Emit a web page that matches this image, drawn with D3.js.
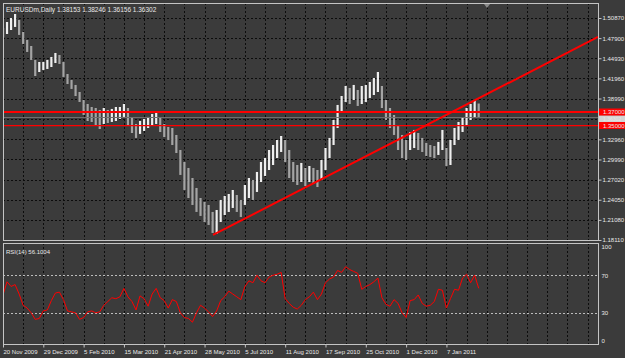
<!DOCTYPE html>
<html>
<head>
<meta charset="utf-8">
<script src="https://cdn.jsdelivr.net/npm/d3@7"></script>
<style>
body { margin: 0; background: #3b3b3b; }
text { font-family: "Liberation Sans", Arial, sans-serif; font-size: 6px; fill: #e8e8e8; }
</style>
</head>
<body>
<div id="chart"></div>
<script>
// EURUSDm daily, one sample every ~3 trading days
const highs = [1.4940,1.5028,1.5087,1.5146,1.5058,1.4881,1.4763,1.4674,1.4468,1.4438,
  1.4438,1.4468,1.4512,1.4571,1.4541,1.4438,1.4261,1.4172,1.4099,1.3995,
  1.3877,1.3818,1.3774,1.3759,1.3730,1.3759,1.3730,1.3745,1.3774,1.3774,
  1.3818,1.3759,1.3612,1.3523,1.3567,1.3597,1.3627,1.3671,1.3686,1.3612,
  1.3523,1.3479,1.3464,1.3361,1.3139,1.2962,1.2874,1.2726,1.2579,1.2431,
  1.2372,1.2328,1.2225,1.2254,1.2402,1.2461,1.2490,1.2549,1.2475,1.2402,
  1.2623,1.2726,1.2697,1.2815,1.2962,1.3021,1.3139,1.3213,1.3287,1.3346,
  1.3287,1.3139,1.2962,1.2918,1.2948,1.2874,1.2903,1.2874,1.2844,1.2992,
  1.3169,1.3317,1.3582,1.3804,1.3936,1.4084,1.4054,1.4099,1.4025,1.4084,
  1.4099,1.4143,1.4202,1.4290,1.4084,1.3877,1.3759,1.3656,1.3508,1.3361,
  1.3287,1.3405,1.3435,1.3390,1.3317,1.3243,1.3213,1.3198,1.3258,1.3435,
  1.3169,1.3287,1.3464,1.3553,1.3612,1.3759,1.3818,1.3877,1.3825];
const lows = [1.4807,1.4851,1.4910,1.4955,1.4837,1.4704,1.4586,1.4468,1.4231,1.4290,
  1.4320,1.4335,1.4364,1.4423,1.4409,1.4217,1.4113,1.4040,1.3936,1.3848,
  1.3656,1.3567,1.3553,1.3508,1.3449,1.3523,1.3538,1.3553,1.3567,1.3597,
  1.3627,1.3508,1.3390,1.3317,1.3376,1.3420,1.3464,1.3494,1.3523,1.3405,
  1.3331,1.3287,1.3213,1.3095,1.2771,1.2549,1.2431,1.2328,1.2225,1.2166,
  1.2077,1.2033,1.1915,1.1900,1.2077,1.2180,1.2225,1.2284,1.2225,1.2151,
  1.2328,1.2431,1.2402,1.2520,1.2667,1.2756,1.2844,1.2918,1.3021,1.3110,
  1.2962,1.2726,1.2667,1.2623,1.2667,1.2608,1.2667,1.2638,1.2593,1.2697,
  1.2844,1.3021,1.3213,1.3464,1.3700,1.3848,1.3818,1.3877,1.3789,1.3818,
  1.3848,1.3907,1.3951,1.3995,1.3759,1.3582,1.3464,1.3361,1.3139,1.3021,
  1.2992,1.3139,1.3169,1.3139,1.3110,1.3051,1.3036,1.3021,1.3066,1.3139,
  1.2903,1.2918,1.3213,1.3287,1.3405,1.3508,1.3582,1.3612,1.3616];
const rsi = [49,63,58,60,50,38,35,30,23,24,
  32,33,43,51,52,44,32,31,30,23,
  25,31,32,30,31,38,42,46,45,47,
  56,47,42,33,48,45,37,50,56,46,
  43,35,44,42,30,25,24,20,30,38,
  35,31,26,32,43,47,53,50,47,44,
  58,64,62,70,64,62,68,70,71,73,
  45,40,36,34,38,44,47,52,44,50,
  62,66,68,75,73,79,76,74,72,55,
  58,60,63,67,46,39,37,44,40,30,
  25,43,44,49,40,37,38,42,55,54,
  35,45,55,54,67,71,62,70,56.1];

const dateLabels = ["20 Nov 2009","29 Dec 2009","5 Feb 2010","15 Mar 2010","21 Apr 2010","28 May 2010",
  "5 Jul 2010","11 Aug 2010","17 Sep 2010","25 Oct 2010","1 Dec 2010","7 Jan 2011"];
const dateIdx = [0,10,20,30,40,50,60,70,80,90,100,110];
const priceTicks = [1.18110,1.21080,1.24050,1.27020,1.29990,1.32960,1.35930,1.38990,1.41960,1.44930,1.47900,1.50870];
const rsiTicks = [100,70,30,0];
const rsiLevels = [70,30];
const levels = [1.37000, 1.35000];
const lastPrice = 1.36302;
const trend = [[52.1, 1.1885], [147.6, 1.4807]];

const width = 625, height = 358;
const plot = {left: 3, right: 598, top: 3, bottom: 240};
const sub = {top: 243, bottom: 344};

const svg = d3.select("#chart").append("svg")
    .attr("width", width)
    .attr("height", height);

const x = d3.scaleLinear().domain([0, 147.6]).range([plot.left, plot.right]);
const y = d3.scaleLinear().domain([1.18110, 1.50870]).range([240, 18]);
const yR = d3.scaleLinear().domain([0, 100]).range([341, 247]);
const px = v => Math.round(v) + 0.5;

svg.append("clipPath").attr("id", "clipMain")
  .append("rect").attr("x", plot.left).attr("y", plot.top)
  .attr("width", plot.right - plot.left).attr("height", plot.bottom - plot.top);
svg.append("clipPath").attr("id", "clipSub")
  .append("rect").attr("x", plot.left).attr("y", sub.top)
  .attr("width", plot.right - plot.left).attr("height", sub.bottom - sub.top);

// grid
const vgrid = d3.range(5, 148, 5);
[[plot.top, plot.bottom], [sub.top, sub.bottom]].forEach(([t, b]) => {
  svg.append("g").selectAll("line").data(vgrid).join("line")
    .attr("x1", d => px(x(d))).attr("x2", d => px(x(d)))
    .attr("y1", t).attr("y2", b)
    .attr("stroke", "#0c0c0c").attr("stroke-dasharray", "2,2");
});
svg.append("g").selectAll("line").data(priceTicks.slice(1)).join("line")
  .attr("x1", plot.left).attr("x2", plot.right)
  .attr("y1", d => px(y(d))).attr("y2", d => px(y(d)))
  .attr("stroke", "#0c0c0c").attr("stroke-dasharray", "2,2");
svg.append("g").selectAll("line").data(rsiLevels).join("line")
  .attr("x1", plot.left).attr("x2", plot.right)
  .attr("y1", d => px(yR(d))).attr("y2", d => px(yR(d)))
  .attr("stroke", "#bdbdbd").attr("stroke-dasharray", "2,2");

// price bars
const main = svg.append("g").attr("clip-path", "url(#clipMain)");
main.append("g").selectAll("line").data(highs).join("line")
  .attr("x1", (d, i) => x(i)).attr("x2", (d, i) => x(i))
  .attr("y1", d => y(d)).attr("y2", (d, i) => y(lows[i]))
  .attr("stroke", (d, i) => i > 0 && d + lows[i] < highs[i - 1] + lows[i - 1] ? "#a4a4a4" : "#eeeeee")
  .attr("stroke-width", 2.2);

// current price line
main.append("line")
  .attr("x1", plot.left).attr("x2", plot.right)
  .attr("y1", px(y(lastPrice))).attr("y2", px(y(lastPrice)))
  .attr("stroke", "#6e6e6e");

// horizontal levels
main.append("g").selectAll("line").data(levels).join("line")
  .attr("x1", plot.left).attr("x2", plot.right)
  .attr("y1", d => y(d)).attr("y2", d => y(d))
  .attr("stroke", "#ff0000").attr("stroke-width", (d, i) => i === 0 ? 2 : 1.2);

// trend line
main.append("line")
  .attr("x1", x(trend[0][0])).attr("y1", y(trend[0][1]))
  .attr("x2", x(trend[1][0])).attr("y2", y(trend[1][1]))
  .attr("stroke", "#ff0000").attr("stroke-width", 2);

// RSI
svg.append("g").attr("clip-path", "url(#clipSub)")
  .append("path").datum(rsi)
  .attr("d", d3.line().x((d, i) => x(i)).y(d => yR(d)))
  .attr("fill", "none").attr("stroke", "#ff0000").attr("stroke-width", 1);

// frames
svg.append("rect").attr("x", plot.left + 0.5).attr("y", plot.top + 0.5)
  .attr("width", plot.right - plot.left).attr("height", plot.bottom - plot.top)
  .attr("fill", "none").attr("stroke", "#c4c4c4");
svg.append("rect").attr("x", plot.left + 0.5).attr("y", sub.top + 0.5)
  .attr("width", plot.right - plot.left).attr("height", sub.bottom - sub.top)
  .attr("fill", "none").attr("stroke", "#c4c4c4");

// shift marker
svg.append("path").attr("d", "M484,4 L490,4 L487,8 Z").attr("fill", "#8a8a8a");

// axes
const ya = svg.append("g").attr("transform", "translate(" + (plot.right + 0.5) + ",0)")
  .call(d3.axisRight(y).tickValues(priceTicks).tickFormat(d3.format(".5f")).tickSize(3).tickPadding(1));
const ra = svg.append("g").attr("transform", "translate(" + (plot.right + 0.5) + ",0)")
  .call(d3.axisRight(yR).tickValues(rsiTicks).tickSize(0).tickPadding(3));
const xa = svg.append("g").attr("transform", "translate(0," + (sub.bottom + 0.5) + ")")
  .call(d3.axisBottom(x).tickValues(dateIdx).tickFormat((d, i) => dateLabels[i]).tickSize(3).tickPadding(2));
[ya, ra, xa].forEach(g => {
  g.select(".domain").remove();
  g.selectAll("line").attr("stroke", "#c4c4c4");
  g.selectAll("text").attr("fill", "#e8e8e8").style("font-size", "6px")
    .style("font-family", "'Liberation Sans', Arial, sans-serif");
});
xa.selectAll("text").attr("text-anchor", "start");
// the 1.35930 label sits under the price tags
ya.selectAll(".tick").filter(d => d > 1.35 && d < 1.37).remove();

// price tags
const tags = [
  {v: lastPrice, fill: "#d4d4d4", color: "#3a3a3a", dy: 2, size: 5},
  {v: levels[0], fill: "#ff0000", color: "#ffffff", dy: 0, size: 6},
  {v: levels[1], fill: "#ff0000", color: "#ffffff", dy: 0, size: 6}
];
const tg = svg.append("g").selectAll("g").data(tags).join("g")
  .attr("transform", d => "translate(" + (plot.right + 1) + "," + (y(d.v) + d.dy) + ")");
tg.append("rect").attr("x", 0).attr("y", -3.5).attr("width", width - plot.right).attr("height", 7)
  .attr("fill", d => d.fill);
tg.append("text").attr("x", 4).attr("y", d => d.size * 0.36)
  .attr("fill", d => d.color).style("font-size", d => d.size + "px")
  .text(d => d3.format(".5f")(d.v));

// titles
svg.append("text").attr("x", 6).attr("y", 12).style("font-size", "6.5px")
  .text("EURUSDm,Daily  1.38153 1.38246 1.36156 1.36302");
svg.append("text").attr("x", 6).attr("y", 254)
  .text("RSI(14) 56.1004");
</script>
</body>
</html>
